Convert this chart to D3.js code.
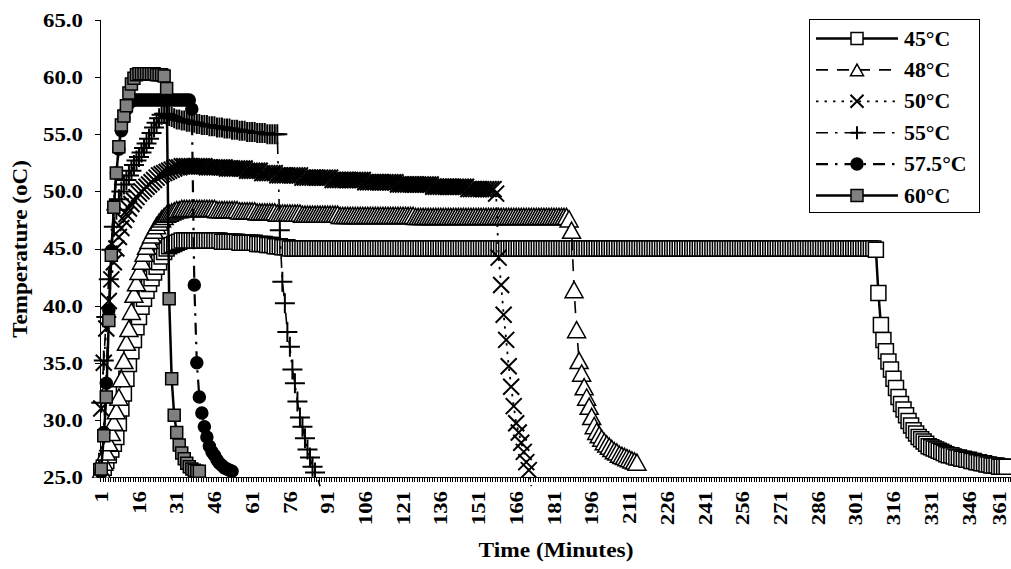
<!DOCTYPE html>
<html>
<head>
<meta charset="utf-8">
<script src="https://cdn.jsdelivr.net/npm/d3@7"></script>
<style>
  html, body { margin: 0; padding: 0; background: #fff; }
  svg { display: block; }
  text { font-family: "Liberation Serif", "Times New Roman", serif; font-weight: bold; fill: #000; }
</style>
</head>
<body>
<svg id="chart" width="1011" height="569"></svg>
<script>
// ---- data: temperature (°C) logged once per minute for each set point ----
const minutes = d3.range(1, 364);            // category slots on the time axis
const tickLabels = [1, 16, 31, 46, 61, 76, 91, 106, 121, 136, 151, 166, 181, 196, 211, 226, 241, 256, 271, 286, 301, 316, 331, 346, 361];
const yTicks = [25, 30, 35, 40, 45, 50, 55, 60, 65];
const seriesNames = ["45°C", "48°C", "50°C", "55°C", "57.5°C", "60°C"];

const t45 = [
  25.5,25.8,26.4,26.9,27.4,27.9,28.5,29.7,31.0,32.3,33.6,34.9,36.0,37.0,38.1,39.0,39.9,40.6,41.3,41.9,
  42.4,42.9,43.4,43.8,44.3,44.7,45.0,45.2,45.3,45.4,45.5,45.6,
  45.7,45.7,45.7,45.7,45.7,45.7,45.7,45.7,45.7,45.7,45.7,45.7,45.7,45.7,45.7,45.7,
  45.6,45.6,45.6,45.6,45.6,45.6,45.6,
  45.5,45.5,45.5,45.5,45.5,45.5,45.5,
  45.4,45.4,45.4,45.4,
  45.3,45.3,45.3,
  45.2,45.2,45.2,
  45.1,45.1,45.1,
  45.0,45.0,45.0,45.0,45.0,45.0,45.0,45.0,45.0,45.0,45.0,45.0,45.0,45.0,45.0,45.0,45.0,45.0,45.0,45.0,
  45.0,45.0,45.0,45.0,45.0,45.0,45.0,45.0,45.0,45.0,45.0,45.0,45.0,45.0,45.0,45.0,45.0,45.0,45.0,45.0,
  45.0,45.0,45.0,45.0,45.0,45.0,45.0,45.0,45.0,45.0,45.0,45.0,45.0,45.0,45.0,45.0,45.0,45.0,45.0,45.0,
  45.0,45.0,45.0,45.0,45.0,45.0,45.0,45.0,45.0,45.0,45.0,45.0,45.0,45.0,45.0,45.0,45.0,45.0,45.0,45.0,
  45.0,45.0,45.0,45.0,45.0,45.0,45.0,45.0,45.0,45.0,45.0,45.0,45.0,45.0,45.0,45.0,45.0,45.0,45.0,45.0,
  45.0,45.0,45.0,45.0,45.0,45.0,45.0,45.0,45.0,45.0,45.0,45.0,45.0,45.0,45.0,45.0,45.0,45.0,45.0,45.0,
  45.0,45.0,45.0,45.0,45.0,45.0,45.0,45.0,45.0,45.0,45.0,45.0,45.0,45.0,45.0,45.0,45.0,45.0,45.0,45.0,
  45.0,45.0,45.0,45.0,45.0,45.0,45.0,45.0,45.0,45.0,45.0,45.0,45.0,45.0,45.0,45.0,45.0,45.0,45.0,45.0,
  45.0,45.0,45.0,45.0,45.0,45.0,45.0,45.0,45.0,45.0,45.0,45.0,45.0,45.0,45.0,45.0,45.0,45.0,45.0,45.0,
  45.0,45.0,45.0,45.0,45.0,45.0,45.0,45.0,45.0,45.0,45.0,45.0,45.0,45.0,45.0,45.0,45.0,45.0,45.0,45.0,
  45.0,45.0,45.0,45.0,45.0,45.0,45.0,45.0,45.0,45.0,45.0,45.0,45.0,45.0,45.0,45.0,45.0,45.0,45.0,45.0,
  45.0,45.0,45.0,45.0,45.0,45.0,45.0,45.0,45.0,45.0,45.0,45.0,45.0,
  44.9,
  41.1,38.3,37.0,36.0,35.1,34.4,33.6,32.8,32.0,31.4,30.9,30.4,29.9,29.5,29.1,28.8,28.5,28.3,28.1,27.9,
  27.7,27.6,27.5,27.4,27.3,27.2,27.1,27.0,26.9,26.9,26.8,26.7,26.7,26.6,26.6,26.5,26.5,26.4,26.4,26.3,
  26.3,26.2,26.2,26.1,26.1,26.0,26.0,26.0,25.9,25.9,25.9,25.9
];

const t48 = [
  25.6,26.3,27.2,28.0,28.9,29.8,30.8,32.0,33.6,35.2,36.8,38.0,39.5,41.0,42.0,43.0,43.9,44.6,45.2,45.7,
  46.2,46.6,47.0,47.3,47.6,47.8,48.0,48.1,48.2,48.3,48.4,48.4,
  48.5,48.5,48.5,48.5,48.5,48.5,48.5,48.5,48.5,48.5,48.5,48.5,48.5,48.5,
  48.4,48.4,48.4,48.4,48.4,48.4,48.4,48.4,48.4,
  48.3,48.3,48.3,48.3,48.3,48.3,48.3,
  48.2,48.2,48.2,48.2,48.2,48.2,48.2,48.2,
  48.1,48.1,48.1,48.1,48.1,48.1,48.1,48.1,48.1,48.1,
  48.0,48.0,48.0,48.0,48.0,48.0,48.0,48.0,48.0,48.0,48.0,48.0,48.0,48.0,48.0,
  47.9,47.9,47.9,47.9,47.9,47.9,47.9,47.9,47.9,47.9,47.9,47.9,47.9,47.9,47.9,
  47.9,47.9,47.9,47.9,47.9,47.9,47.9,47.9,47.9,47.9,47.9,47.9,47.9,47.9,47.9,
  47.8,47.8,47.8,47.8,47.8,47.8,47.8,47.8,47.8,47.8,47.8,47.8,47.8,47.8,47.8,47.8,47.8,47.8,47.8,47.8,
  47.8,47.8,47.8,47.8,47.8,47.8,47.8,47.8,47.8,47.8,47.8,47.8,47.8,47.8,47.8,47.8,47.8,47.8,47.8,47.8,
  47.8,47.8,47.8,47.8,47.8,47.8,47.8,47.8,47.8,47.8,47.8,47.8,47.8,47.8,47.8,47.8,47.8,47.8,47.8,47.8,
  47.8,
  47.6,46.6,41.4,37.9,35.2,34.1,32.9,32.0,31.2,30.3,29.5,29.0,28.7,28.4,28.1,27.9,27.7,27.5,27.3,27.2,
  27.0,26.9,26.8,26.7,26.6,26.5,26.4,26.3
];

const t50 = [
  31.0,35.0,38.0,40.4,42.3,43.8,45.0,46.0,46.8,47.5,48.0,48.5,48.9,49.2,49.5,49.8,50.0,50.2,50.4,50.6,
  50.8,51.0,51.2,51.4,51.5,51.6,51.7,51.8,51.9,52.0,52.1,52.1,
  52.2,52.2,52.2,52.2,52.2,52.2,52.2,52.2,52.2,52.2,
  52.1,52.1,52.1,52.1,52.1,52.1,52.1,52.1,
  52.0,52.0,52.0,52.0,52.0,52.0,52.0,52.0,
  51.8,51.8,51.8,51.8,51.8,51.8,
  51.6,51.6,51.6,51.6,51.6,51.6,
  51.4,51.4,51.4,51.4,51.4,51.4,51.4,51.4,51.4,51.4,
  51.2,51.2,51.2,51.2,51.2,51.2,51.2,51.2,51.2,51.2,51.2,51.2,
  51.0,51.0,51.0,51.0,51.0,51.0,51.0,51.0,51.0,51.0,51.0,51.0,51.0,
  50.8,50.8,50.8,50.8,50.8,50.8,50.8,50.8,50.8,50.8,50.8,50.8,50.8,
  50.6,50.6,50.6,50.6,50.6,50.6,50.6,50.6,50.6,50.6,50.6,50.6,50.6,50.6,
  50.4,50.4,50.4,50.4,50.4,50.4,50.4,50.4,50.4,50.4,50.4,50.4,50.4,50.4,
  50.2,50.2,50.2,50.2,50.2,50.2,50.2,50.2,50.2,50.2,50.2,
  49.8,44.2,41.8,39.2,37.0,34.7,32.9,31.2,29.7,28.9,28.0,27.2,26.3,25.6,24.2
];

const t55 = [
  31.5,35.2,39.0,42.3,44.9,46.9,48.4,49.3,50.0,50.6,51.0,51.4,51.8,52.3,52.7,53.0,53.4,53.8,54.2,54.6,
  55.1,55.6,56.0,56.4,56.7,56.8,
  56.7,56.6,56.5,56.4,56.3,56.3,56.2,56.2,56.1,56.1,56.0,56.0,55.9,55.9,55.8,55.8,55.8,55.7,55.7,55.7,
  55.6,55.6,55.6,55.5,55.5,55.5,55.4,55.4,55.4,55.3,55.3,55.3,55.2,55.2,55.2,55.2,55.1,55.1,55.1,55.1,
  55.0,55.0,55.0,55.0,55.0,
  46.6,42.1,40.2,37.7,36.4,34.4,33.2,31.6,30.2,29.4,28.4,27.4,26.7,25.9,25.4,24.9,24.2
];

const t575 = [
  25.4,28.9,33.2,39.6,44.8,48.8,51.6,53.7,55.3,56.4,57.2,57.7,57.9,
  58.0,58.0,58.0,58.0,58.0,58.0,58.0,58.0,58.0,58.0,58.0,58.0,58.0,58.0,58.0,58.0,58.0,58.0,58.0,58.0,
  58.0,58.0,58.0,
  57.2,
  41.8,35.0,32.0,30.6,29.4,28.5,27.7,27.2,26.9,26.5,26.2,26.0,25.8,25.7,25.6,25.5
];

const t60 = [
  25.7,28.6,32.0,38.7,44.4,48.6,51.6,53.9,55.8,56.6,57.5,58.6,59.4,59.9,60.2,
  60.3,60.3,60.3,60.3,60.3,60.3,60.3,
  60.2,60.2,60.2,60.1,59.0,
  40.6,33.6,30.4,28.9,27.8,27.1,26.6,26.2,25.9,25.7,25.6,25.5,25.5
];

const seriesValues = [t45, t48, t50, t55, t575, t60];

// ---- drawing styles per series ----
const styles = [
  { dash: null,          width: 2.5, marker: "square",   size: 15, fill: "#fff" },
  { dash: "12,9",        width: 1.6, marker: "triangle", size: 18, fill: "#fff" },
  { dash: "2.5,6",       width: 1.8, marker: "x",        size: 16, fill: "none" },
  { dash: "12,7,2.5,7",  width: 1.6, marker: "plus",     size: 20, fill: "none" },
  { dash: "12,7,2.5,7",  width: 2.2, marker: "circle",   size: 12, fill: "#000" },
  { dash: null,          width: 2.5, marker: "square",   size: 12, fill: "#808080" }
];
const legendMarkerSize = [12, 13, 13, 13, 12, 12];

const svg = d3.select("#chart");
const width = 1011, height = 569;
const plot = { left: 100, top: 20, bottom: 477 };

const x = d3.scaleBand()
  .domain(minutes)
  .range([plot.left, plot.left + minutes.length * 2.515])
  .paddingInner(0).paddingOuter(0);
const xc = m => x(m) + x.bandwidth() / 2;
const y = d3.scaleLinear().domain([25, 65]).range([plot.bottom, plot.top]);

// stretch a text element horizontally to a given factor of its natural length
function stretch(sel, factor) {
  sel.each(function () {
    const len = this.getComputedTextLength();
    d3.select(this).attr("textLength", len * factor).attr("lengthAdjust", "spacingAndGlyphs");
  });
}

function markerPath(type, s) {
  const h = s / 2;
  switch (type) {
    case "square":   return `M${-h},${-h}H${h}V${h}H${-h}Z`;
    case "triangle": return `M0,${-h * 0.9}L${h},${h * 0.9}L${-h},${h * 0.9}Z`;
    case "x":        return `M${-h},${-h}L${h},${h}M${h},${-h}L${-h},${h}`;
    case "plus":     return `M${-h},0H${h}M0,${-h}V${h}`;
    case "circle":   return d3.symbol(d3.symbolCircle, Math.PI * h * h)();
  }
}

// ---- axes ----
const yAxis = d3.axisLeft(y).tickValues(yTicks).tickFormat(d3.format(".1f")).tickSize(5).tickPadding(12);
const gy = svg.append("g").attr("transform", `translate(${plot.left},0)`).call(yAxis);
gy.select(".domain").attr("stroke", "#000").attr("stroke-width", 1).attr("d", `M0.5,${plot.top}V${plot.bottom}`);
gy.selectAll(".tick line").attr("stroke", "#000").attr("shape-rendering", "crispEdges");
gy.selectAll(".tick text").attr("font-size", 18).attr("font-family", null).attr("dy", "0.36em");
stretch(gy.selectAll(".tick text"), 1.27);

// category tick marks between every minute
const gx = svg.append("g");
gx.append("line")
  .attr("x1", plot.left).attr("x2", width)
  .attr("y1", plot.bottom + 0.5).attr("y2", plot.bottom + 0.5)
  .attr("stroke", "#000");
gx.selectAll("line.tk").data(minutes).join("line").attr("class", "tk")
  .attr("x1", d => Math.round(x(d)) + 0.5).attr("x2", d => Math.round(x(d)) + 0.5)
  .attr("y1", plot.bottom).attr("y2", plot.bottom + 5)
  .attr("stroke", "#000").attr("stroke-width", 1);

// rotated minute labels; the last one is kept inside the frame
const xl = gx.selectAll("text.xl").data(tickLabels).join("text").attr("class", "xl")
  .attr("transform", d => `translate(${Math.min(xc(d), width - 12)},${plot.bottom + 14}) rotate(-90)`)
  .attr("text-anchor", "end").attr("dy", "0.35em").attr("font-size", 19)
  .text(d => d);
stretch(xl, 1.2);

// axis titles
const xt = svg.append("text").attr("x", 556).attr("y", 557).attr("text-anchor", "middle")
  .attr("font-size", 20).text("Time (Minutes)");
stretch(xt, 1.17);
const yt = svg.append("text").attr("transform", "translate(27,249) rotate(-90)")
  .attr("text-anchor", "middle").attr("font-size", 21).text("Temperature (oC)");
stretch(yt, 1.1);

// ---- series: line then markers, drawn in order so 60°C sits on top ----
svg.append("defs").append("clipPath").attr("id", "plotclip")
  .append("rect").attr("x", 0).attr("y", 0).attr("width", width).attr("height", plot.bottom + 1);

const line = d3.line().x(d => xc(d.m)).y(d => y(d.v));

seriesValues.forEach((vals, i) => {
  const st = styles[i];
  const pts = vals.map((v, k) => ({ m: minutes[k], v }));
  const g = svg.append("g");
  g.append("path").datum(pts)
    .attr("d", line).attr("fill", "none").attr("stroke", "#000")
    .attr("stroke-width", st.width).attr("stroke-dasharray", st.dash)
    .attr("stroke-linejoin", "round");
  g.append("g").attr("clip-path", "url(#plotclip)")
    .selectAll("path").data(pts.filter(p => p.v >= 25)).join("path")
    .attr("transform", d => `translate(${xc(d.m)},${y(d.v)})`)
    .attr("d", markerPath(st.marker, st.size))
    .attr("fill", st.fill)
    .attr("stroke", "#000")
    .attr("stroke-width", st.marker === "x" || st.marker === "plus" ? 2 : 1.5);
});

// ---- legend ----
const lg = svg.append("g");
lg.append("rect").attr("x", 809.5).attr("y", 19.5).attr("width", 170).attr("height", 193)
  .attr("fill", "#fff").attr("stroke", "#000").attr("stroke-width", 1);
const rowY = d3.scalePoint().domain(seriesNames).range([38.5, 195.5]);
seriesNames.forEach((name, i) => {
  const st = styles[i];
  const cy = rowY(name);
  lg.append("line").attr("x1", 816).attr("x2", 898).attr("y1", cy).attr("y2", cy)
    .attr("stroke", "#000").attr("stroke-width", st.width).attr("stroke-dasharray", st.dash);
  lg.append("path").attr("transform", `translate(857,${cy})`)
    .attr("d", markerPath(st.marker, legendMarkerSize[i]))
    .attr("fill", st.fill).attr("stroke", "#000")
    .attr("stroke-width", st.marker === "x" || st.marker === "plus" ? 2 : 1.5);
  const t = lg.append("text").attr("x", 904).attr("y", cy + 7).attr("font-size", 20).text(name);
  stretch(t, 1.09);
});
</script>
</body>
</html>
